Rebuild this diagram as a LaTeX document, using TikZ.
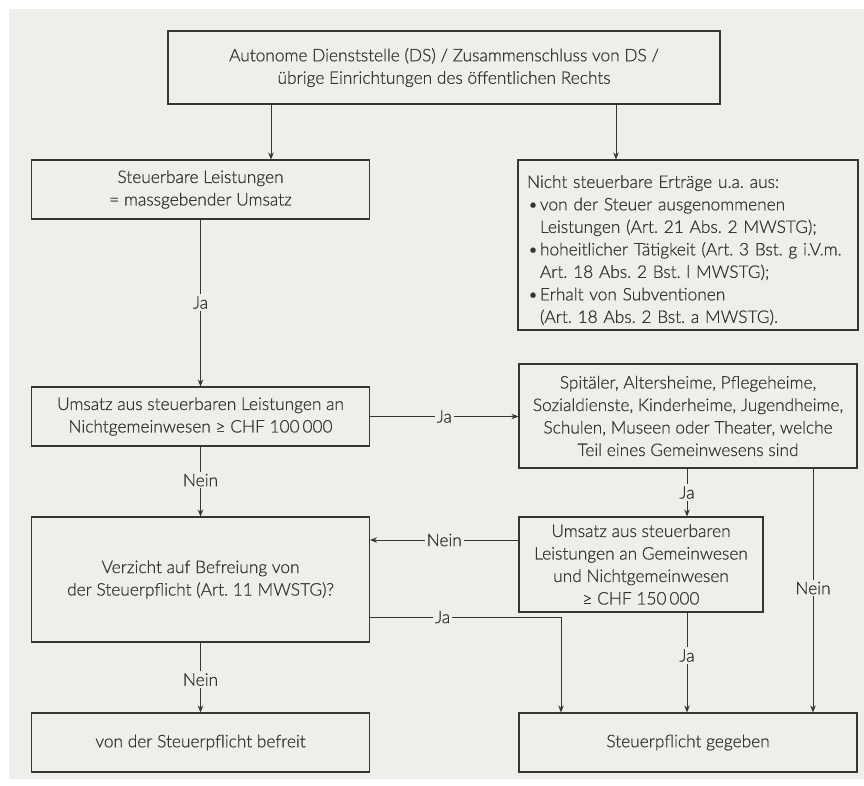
\documentclass[tikz,border=0pt]{standalone}
\usepackage{fontspec}
\setmainfont{Lato Light}[FakeBold=0.7]
\usetikzlibrary{arrows.meta}
\definecolor{paper}{HTML}{EFEEEA}
\definecolor{ink}{HTML}{353535}
\tikzset{
  box/.style={draw=ink, line width=1.1pt, fill=paper, inner sep=0pt, align=center, text=ink,
    font=\fontsize{17.3}{22.5}\selectfont},
  arr/.style={draw=ink, line width=0.9pt, -{Stealth[length=7pt,width=5.5pt]}},
  lin/.style={draw=ink, line width=0.9pt},
  lbl/.style={fill=paper, inner sep=2pt, text=ink, font=\fontsize{17.3}{18}\selectfont}
}
\newcommand{\bul}{\makebox[13pt][l]{\hspace*{1pt}•}}
\frenchspacing
\begin{document}
\begin{tikzpicture}[x=1pt,y=-1pt]
\useasboundingbox (0,0) rectangle (864,785);
\fill[white] (0,0) rectangle (864,785);
\fill[paper] (9,9) rectangle (864,779);

\node[box, minimum width=552pt, minimum height=73pt] (top) at (444,67.5)
  {Autonome Dienststelle (DS) / Zusammenschluss von DS /\\übrige Einrichtungen des öffentlichen Rechts};
\node[box, minimum width=338pt, minimum height=59pt] (sl) at (200.5,189.5)
  {Steuerbare Leistungen\\= massgebender Umsatz};
\node[box, minimum width=340pt, minimum height=170pt, align=left, text width=322pt] (ns) at (688,245)
  {\rule{0pt}{23pt}Nicht steuerbare Erträge u.a. aus:\\
   \bul von der Steuer ausgenommenen\\
   \hspace*{13pt}Leistungen (Art. 21 Abs. 2 MWSTG);\\
   \bul hoheitlicher Tätigkeit (Art. 3 Bst. g i.V.m.\\
   \hspace*{13pt}Art. 18 Abs. 2 Bst. l MWSTG);\\
   \bul Erhalt von Subventionen\\
   \hspace*{13pt}(Art. 18 Abs. 2 Bst. a MWSTG).};
\node[box, minimum width=338pt, minimum height=59pt] (um) at (200.5,416.5)
  {Umsatz aus steuerbaren Leistungen an\\Nichtgemeinwesen ≥ CHF 100\,000};
\node[box, minimum width=338pt, minimum height=104pt] (sp) at (688,416)
  {Spitäler, Altersheime, Pflegeheime,\\Sozialdienste, Kinderheime, Jugendheime,\\Schulen, Museen oder Theater, welche\\Teil eines Gemeinwesens sind};
\node[box, minimum width=338pt, minimum height=125pt] (vz) at (200.5,579.5)
  {Verzicht auf Befreiung von\\der Steuerpflicht (Art. 11 MWSTG)?};
\node[box, minimum width=244pt, minimum height=95pt] (u150) at (641,564.5)
  {Umsatz aus steuerbaren\\Leistungen an Gemeinwesen\\und Nichtgemeinwesen\\≥ CHF 150\,000};
\node[box, minimum width=338pt, minimum height=59pt] (bf) at (200.5,742.5)
  {von der Steuerpflicht befreit};
\node[box, minimum width=338pt, minimum height=59pt] (sg) at (688,742.5)
  {Steuerpflicht gegeben};

\coordinate (xa) at (271,0);
\coordinate (xb) at (616,0);
\coordinate (xc) at (687,0);
\coordinate (xd) at (813,0);
\coordinate (xe) at (561,617);
\coordinate (ya) at (0,540);

\draw[arr] (top.south -| xa) -- (sl.north -| xa);
\draw[arr] (top.south -| xb) -- (ns.north -| xb);
\draw[arr] (sl.south) -- node[lbl, pos=0.497] {Ja} (um.north);
\draw[arr] (um.east) -- node[lbl] {Ja} (um.east -| sp.west);
\draw[arr] (um.south) -- node[lbl, pos=0.48] {Nein} (vz.north);
\draw[arr] (sp.south -| xc) -- node[lbl] {Ja} (u150.north -| xc);
\draw[arr] (u150.west |- ya) -- node[lbl] {Nein} (vz.east |- ya);
\draw[lin] (vz.east |- xe) -- node[lbl, pos=0.38] {Ja} (xe);
\draw[arr] (xe) -- (sg.north -| xe);
\draw[arr] (u150.south -| xc) -- node[lbl, pos=0.43] {Ja} (sg.north -| xc);
\draw[arr] (sp.south -| xd) -- node[lbl, pos=0.49] {Nein} (sg.north -| xd);
\draw[arr] (vz.south) -- node[lbl, pos=0.53] {Nein} (bf.north);
\end{tikzpicture}
\end{document}
